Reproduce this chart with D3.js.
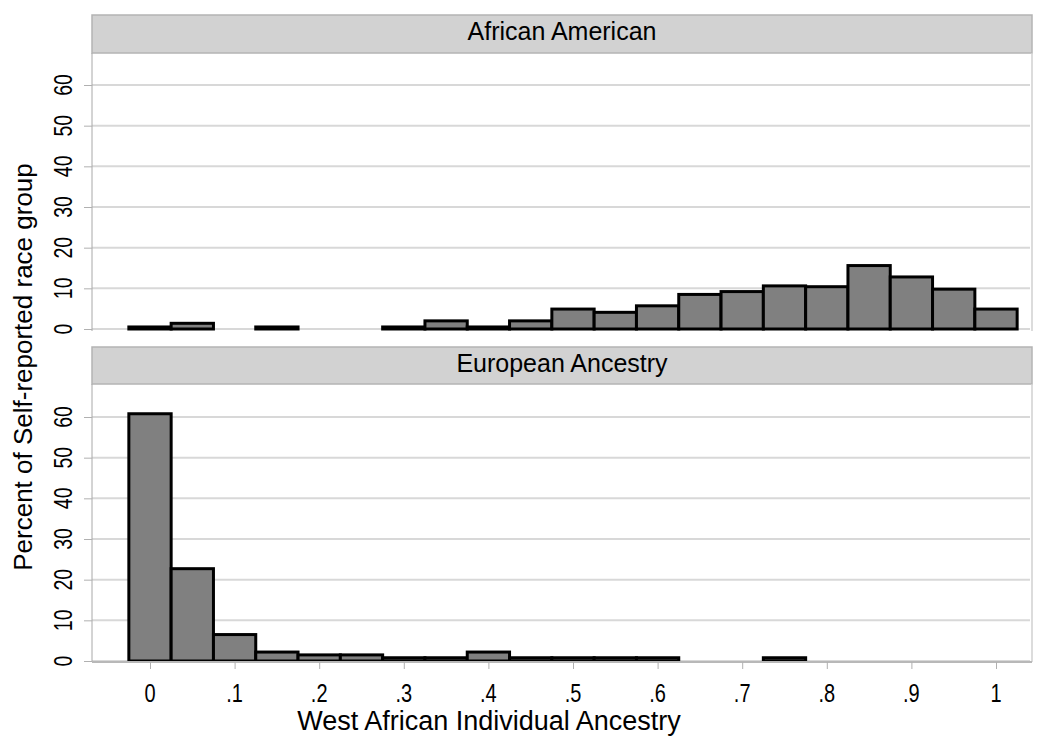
<!DOCTYPE html>
<html>
<head>
<meta charset="utf-8">
<script src="https://cdn.jsdelivr.net/npm/d3@7"></script>
<style>
  body { margin: 0; background: #fff; }
  text { font-family: "Liberation Sans", Arial, sans-serif; fill: #000; }
</style>
</head>
<body>
<div id="chart"></div>
<script>
// histogram bins (width .05), centred on these values
var binCenters = [0, .05, .1, .15, .2, .25, .3, .35, .4, .45, .5, .55, .6, .65, .7, .75, .8, .85, .9, .95, 1];

// percent per bin
var africanAmerican = [0.5, 1.4, 0, 0.5, 0, 0, 0.5, 2.0, 0.5, 2.0, 4.9, 4.1, 5.7, 8.5, 9.2, 10.6, 10.4, 15.6, 12.8, 9.8, 4.9];
var european = [60.8, 22.7, 6.5, 2.2, 1.5, 1.5, 0.8, 0.8, 2.2, 0.8, 0.8, 0.8, 0.8, 0, 0, 0.8, 0, 0, 0, 0, 0];

var panelNames = ["African American", "European Ancestry"];
var xTicks = [0, .1, .2, .3, .4, .5, .6, .7, .8, .9, 1];
var xTickLabels = ["0", ".1", ".2", ".3", ".4", ".5", ".6", ".7", ".8", ".9", "1"];
var yTicks = [0, 10, 20, 30, 40, 50, 60];

var svgWidth = 1050;
var svgHeight = 748;
var binWidth = 0.05;

var plotLeft = 92;
var plotRight = 1032;

// each panel: header top, plot top, zero line, bottom of plot
var panels = [
    { name: panelNames[0], values: africanAmerican, headTop: 15, plotTop: 53, zeroY: 329, plotBottom: 331 },
    { name: panelNames[1], values: european, headTop: 347, plotTop: 384, zeroY: 661, plotBottom: 662 }
];

var svg = d3.select("#chart")
    .append("svg")
    .attr("width", svgWidth)
    .attr("height", svgHeight);

// x scale shared by both panels
var xScale = d3.scaleLinear()
    .domain([0, 1])
    .range([150, 996]);

panels.forEach(function (p, i) {
    var yScale = d3.scaleLinear()
        .domain([0, 60])
        .range([p.zeroY, p.zeroY - 244]);

    var g = svg.append("g");

    // header strip
    g.append("rect")
        .attr("x", plotLeft)
        .attr("y", p.headTop)
        .attr("width", plotRight - plotLeft)
        .attr("height", p.plotTop - p.headTop)
        .attr("fill", "#d2d2d2")
        .attr("stroke", "#b4b4b4")
        .attr("stroke-width", 1.5);

    g.append("text")
        .attr("x", (plotLeft + plotRight) / 2)
        .attr("y", p.headTop + 25)
        .attr("text-anchor", "middle")
        .attr("font-size", "25px")
        .text(p.name);

    // right border of plot
    g.append("line")
        .attr("x1", plotRight).attr("x2", plotRight)
        .attr("y1", p.plotTop).attr("y2", p.plotBottom)
        .attr("stroke", "#d0d0d0")
        .attr("stroke-width", 1.5);

    // grid lines
    g.selectAll(".grid")
        .data(yTicks)
        .enter()
        .append("line")
        .attr("x1", plotLeft)
        .attr("x2", plotRight - 2)
        .attr("y1", d => yScale(d))
        .attr("y2", d => yScale(d))
        .attr("stroke", "#d8d8d8")
        .attr("stroke-width", 2);

    // y axis
    var yAxis = d3.axisLeft(yScale)
        .tickValues(yTicks)
        .tickSize(8)
        .tickPadding(0);

    var yg = g.append("g")
        .attr("transform", `translate(${plotLeft}, 0)`)
        .call(yAxis);
    yg.select(".domain")
        .attr("d", `M0,${p.plotTop}V${p.plotBottom}`)
        .attr("stroke", "#a8a8a8");
    yg.selectAll(".tick line").attr("stroke", "#b0b0b0");
    yg.selectAll(".tick text").remove();

    // rotated tick labels
    g.selectAll(".ylab")
        .data(yTicks)
        .enter()
        .append("text")
        .attr("transform", d => `translate(72, ${yScale(d)}) rotate(-90) scale(0.78, 1)`)
        .attr("text-anchor", "middle")
        .attr("font-size", "25px")
        .text(d => d);

    // bars
    var bars = binCenters.map(function (c, j) { return { x: c, v: p.values[j] }; })
        .filter(d => d.v > 0);

    g.selectAll(".bar")
        .data(bars)
        .enter()
        .append("rect")
        .attr("x", d => xScale(d.x - binWidth / 2))
        .attr("y", d => yScale(d.v))
        .attr("width", d => xScale(d.x + binWidth / 2) - xScale(d.x - binWidth / 2))
        .attr("height", d => yScale(0) - yScale(d.v))
        .attr("fill", "#808080")
        .attr("stroke", "#000")
        .attr("stroke-width", 3);

    // x axis on the lower panel only
    if (i === 1) {
        var xAxis = d3.axisBottom(xScale)
            .tickValues(xTicks)
            .tickSize(7)
            .tickFormat((d, k) => xTickLabels[k]);

        var xg = g.append("g")
            .attr("transform", `translate(0, ${p.zeroY + 1})`)
            .call(xAxis);
        xg.select(".domain")
            .attr("d", `M${plotLeft},0H${plotRight}`)
            .attr("stroke", "#b8b8b8")
            .attr("stroke-width", 2);
        xg.selectAll(".tick line").attr("stroke", "#b0b0b0");
        xg.selectAll(".tick text").remove();

        g.selectAll(".xlab")
            .data(xTicks)
            .enter()
            .append("text")
            .attr("transform", d => `translate(${xScale(d)}, 702) scale(0.8, 1)`)
            .attr("text-anchor", "middle")
            .attr("font-size", "25px")
            .text((d, k) => xTickLabels[k]);
    }
});

// axis titles
svg.append("text")
    .attr("x", 489)
    .attr("y", 730)
    .attr("text-anchor", "middle")
    .attr("font-size", "27px")
    .text("West African Individual Ancestry");

svg.append("text")
    .attr("transform", "translate(32, 367) rotate(-90)")
    .attr("text-anchor", "middle")
    .attr("font-size", "26px")
    .text("Percent of Self-reported race group");
</script>
</body>
</html>
